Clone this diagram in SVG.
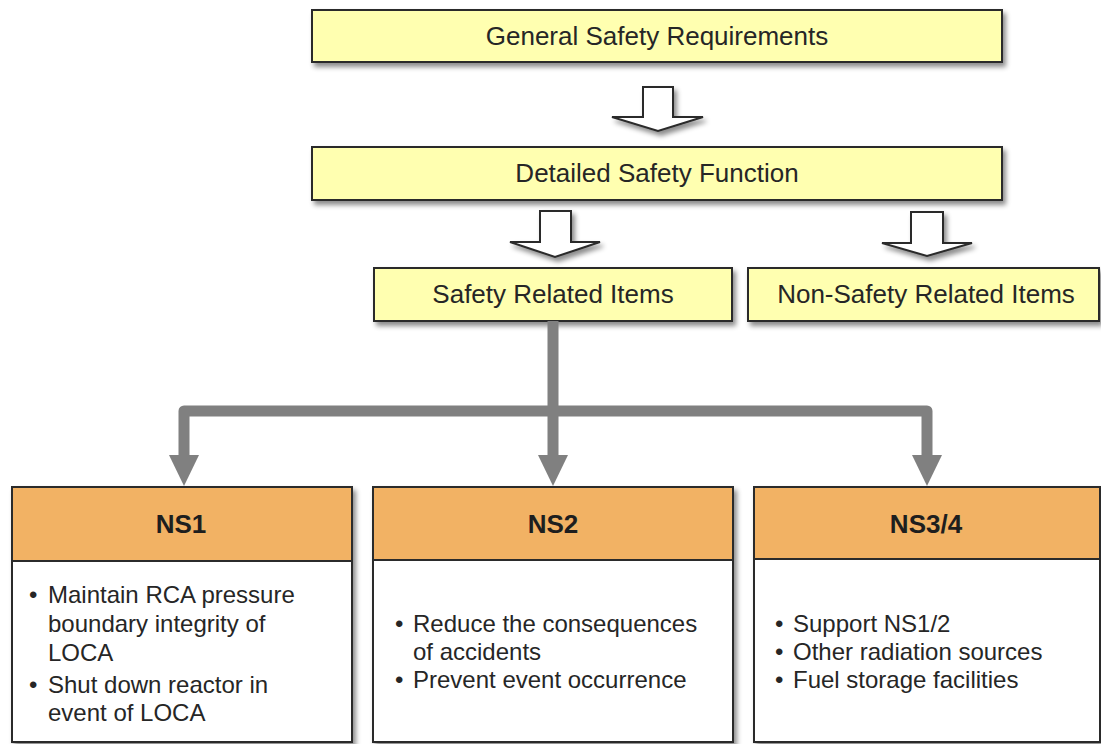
<svg xmlns="http://www.w3.org/2000/svg" width="1101" height="744" viewBox="0 0 1101 744">
  <style>
    .box { stroke: #2b2b2b; stroke-width: 2; }
    .yellow { fill: #FFFFB0; }
    .orange { fill: #F2B264; }
    .white { fill: #FFFFFF; }
    .title { font-family: "Liberation Sans", Arial, sans-serif; font-size: 26px; fill: #262626; text-anchor: middle; }
    .head { font-family: "Liberation Sans", Arial, sans-serif; font-size: 26px; font-weight: bold; fill: #1e1e1e; text-anchor: middle; }
    .item { font-family: "Liberation Sans", Arial, sans-serif; font-size: 24px; fill: #262626; }
    .hollow { fill: #FFFFFF; stroke: #2b2b2b; stroke-width: 2; stroke-linejoin: miter; }
    .flow { fill: none; stroke: #808080; stroke-width: 11; stroke-linejoin: round; }
    .tip { fill: #808080; }
  </style>
  <defs>
    <filter id="shadow" x="-5%" y="-20%" width="115%" height="160%">
      <feDropShadow dx="3" dy="4" stdDeviation="2.5" flood-color="#000" flood-opacity="0.45"/>
    </filter>
  </defs>

  <rect width="1101" height="744" fill="#FFFFFF"/>

  <!-- Upper chain of requirement boxes -->
  <g id="general-safety-requirements">
    <rect class="box yellow" x="312" y="10" width="690" height="52" filter="url(#shadow)"/>
    <text class="title" x="657" y="45">General Safety Requirements</text>
  </g>

  <g id="detailed-safety-function">
    <rect class="box yellow" x="312" y="147" width="690" height="53" filter="url(#shadow)"/>
    <text class="title" x="657" y="182">Detailed Safety Function</text>
  </g>

  <g id="safety-related-items">
    <rect class="box yellow" x="374" y="268" width="358" height="53" filter="url(#shadow)"/>
    <text class="title" x="553" y="303">Safety Related Items</text>
  </g>

  <g id="non-safety-related-items">
    <rect class="box yellow" x="748" y="268" width="351" height="53" filter="url(#shadow)"/>
    <text class="title" x="926" y="303">Non-Safety Related Items</text>
  </g>

  <!-- Safety class boxes -->
  <g id="ns1">
    <rect class="box white" x="12" y="487" width="340" height="255" filter="url(#shadow)"/>
    <rect class="box orange" x="12" y="487" width="340" height="74"/>
    <text class="head" x="181" y="533">NS1</text>
    <text class="item" x="29" y="603">•</text>
    <text class="item" x="48" y="603">Maintain RCA pressure</text>
    <text class="item" x="48" y="632">boundary integrity of</text>
    <text class="item" x="48" y="661">LOCA</text>
    <text class="item" x="29" y="693">•</text>
    <text class="item" x="48" y="693">Shut down reactor in</text>
    <text class="item" x="48" y="721">event of LOCA</text>
  </g>

  <g id="ns2">
    <rect class="box white" x="373" y="487" width="360" height="255" filter="url(#shadow)"/>
    <rect class="box orange" x="373" y="487" width="360" height="73"/>
    <text class="head" x="553" y="533">NS2</text>
    <text class="item" x="395" y="632">•</text>
    <text class="item" x="413" y="632">Reduce the consequences</text>
    <text class="item" x="413" y="660">of accidents</text>
    <text class="item" x="395" y="688">•</text>
    <text class="item" x="413" y="688">Prevent event occurrence</text>
  </g>

  <g id="ns3-4">
    <rect class="box white" x="754" y="487" width="346" height="255" filter="url(#shadow)"/>
    <rect class="box orange" x="754" y="487" width="346" height="72"/>
    <text class="head" x="926" y="533">NS3/4</text>
    <text class="item" x="775" y="632">•</text>
    <text class="item" x="793" y="632">Support NS1/2</text>
    <text class="item" x="775" y="660">•</text>
    <text class="item" x="793" y="660">Other radiation sources</text>
    <text class="item" x="775" y="688">•</text>
    <text class="item" x="793" y="688">Fuel storage facilities</text>
  </g>

  <!-- Connectors -->
  <g id="connectors">
    <!-- hollow block arrows between requirement levels -->
    <path class="hollow" d="M643,87 L673,87 L673,117 L703,117 L658,131 L612,117 L643,117 Z" filter="url(#shadow)"/>
    <path class="hollow" d="M540,211 L571,211 L571,242 L600,242 L555,257 L510,242 L540,242 Z" filter="url(#shadow)"/>
    <path class="hollow" d="M911,212 L943,212 L943,243 L972,243 L927,256 L882,243 L911,243 Z" filter="url(#shadow)"/>

    <!-- grey distribution tree to the safety classes -->
    <path class="flow" d="M553,321 L553,458"/>
    <path class="flow" d="M184,458 L184,411 L927,411 L927,458"/>
    <polygon class="tip" points="169,455 199,455 184,486"/>
    <polygon class="tip" points="538,455 568,455 553,486"/>
    <polygon class="tip" points="912,455 942,455 927,486"/>
  </g>
</svg>
